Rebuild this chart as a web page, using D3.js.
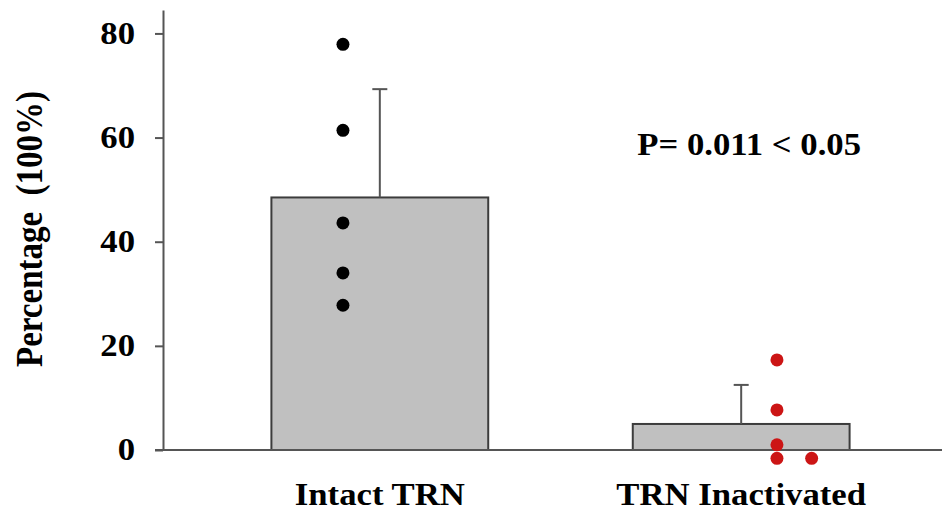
<!DOCTYPE html>
<html>
<head>
<meta charset="utf-8">
<script src="https://cdn.jsdelivr.net/npm/d3@7"></script>
<style>
  body { margin: 0; background: #fff; }
  svg { display: block; }
</style>
</head>
<body>
<svg id="chart" width="942" height="515"></svg>
<script>
// group names, bar means, error (SEM) and single animal values
var categories = ["Intact TRN", "TRN Inactivated"];
var means = [48.5, 5.0];
var errors = [20.8, 7.5];
var intactPoints = [77.9, 61.4, 43.6, 34.0, 27.8];
var inactivatedPoints = [17.3, 7.7, 1.0, -1.6, -1.6];
var yTicks = [0, 20, 40, 60, 80];
var pText = "P= 0.011 < 0.05";

var W = 942, H = 515;
var FONT = "'Liberation Serif'";
var stretch = 1.12; // picture is a bit wider than tall
var svg = d3.select("#chart");

var y = d3.scaleLinear()
    .domain([0, 84.5])
    .range([450, 10]);

var x = d3.scaleBand()
    .domain(categories)
    .range([163, 958])
    .paddingInner(0.4)
    .paddingOuter(0.3);

var bars = categories.map(function (c, i) {
    return {key: c, mean: means[i], err: errors[i]};
});

// bars
svg.append("g")
    .selectAll("rect")
    .data(bars)
    .enter()
    .append("rect")
    .attr("x", function (d) { return x(d.key); })
    .attr("y", function (d) { return y(d.mean); })
    .attr("width", x.bandwidth())
    .attr("height", function (d) { return y(0) - y(d.mean); })
    .attr("fill", "#c0c0c0")
    .attr("stroke", "#3c3c3c")
    .attr("stroke-width", 2);

// error bars (upper only)
var eb = svg.append("g")
    .selectAll("g")
    .data(bars)
    .enter()
    .append("g")
    .attr("stroke", "#555")
    .attr("stroke-width", 2);

eb.append("line")
    .attr("x1", function (d) { return x(d.key) + x.bandwidth() / 2; })
    .attr("x2", function (d) { return x(d.key) + x.bandwidth() / 2; })
    .attr("y1", function (d) { return y(d.mean); })
    .attr("y2", function (d) { return y(d.mean + d.err); });

eb.append("line")
    .attr("x1", function (d) { return x(d.key) + x.bandwidth() / 2 - 7.5; })
    .attr("x2", function (d) { return x(d.key) + x.bandwidth() / 2 + 7.5; })
    .attr("y1", function (d) { return y(d.mean + d.err); })
    .attr("y2", function (d) { return y(d.mean + d.err); });

// axes
var yAxis = svg.append("g")
    .attr("transform", "translate(163,0)")
    .call(d3.axisLeft(y).tickValues(yTicks).tickSize(8).tickSizeOuter(0).tickPadding(20));

yAxis.select(".domain").attr("stroke", "#555").attr("stroke-width", 2);
yAxis.selectAll(".tick line").attr("stroke", "#555").attr("stroke-width", 2);
yAxis.selectAll(".tick text")
    .style("font-family", FONT)
    .style("font-weight", "bold")
    .style("font-size", "31px")
    .attr("fill", "#000")
    .attr("x", -28 / stretch)
    .attr("transform", "scale(" + stretch + ",1)");

svg.append("line")
    .attr("x1", 155)
    .attr("x2", W)
    .attr("y1", y(0))
    .attr("y2", y(0))
    .attr("stroke", "#555")
    .attr("stroke-width", 2);

svg.append("g")
    .selectAll("text")
    .data(categories)
    .enter()
    .append("text")
    .attr("transform", function (d) {
        return "translate(" + (x(d) + x.bandwidth() / 2) + ",505) scale(" + stretch + ",1)";
    })
    .attr("text-anchor", "middle")
    .style("font-family", FONT)
    .style("font-weight", "bold")
    .style("font-size", "31px")
    .text(function (d) { return d; });

// y title
svg.append("text")
    .attr("transform", "translate(42,229) rotate(-90) scale(1," + stretch + ")")
    .attr("text-anchor", "middle")
    .style("font-family", FONT)
    .style("font-weight", "bold")
    .style("font-size", "33px")
    .style("white-space", "pre")
    .text("Percentage  (100%)");

// individual points
var dotOffsets = [-0.17, 0.165];
var dupShift = 0.16;
var dots = [];
[intactPoints, inactivatedPoints].forEach(function (vals, gi) {
    var placed = [];
    vals.forEach(function (v) {
        var cx = x(categories[gi]) + x.bandwidth() * (0.5 + dotOffsets[gi]);
        while (placed.some(function (p) { return p.v === v && p.cx === cx; })) {
            cx += x.bandwidth() * dupShift;
        }
        placed.push({v: v, cx: cx});
        dots.push({v: v, cx: cx, g: gi});
    });
});

svg.append("g")
    .selectAll("circle")
    .data(dots)
    .enter()
    .append("circle")
    .attr("cx", function (d) { return d.cx; })
    .attr("cy", function (d) { return y(d.v); })
    .attr("r", 6.5)
    .attr("fill", function (d) { return d.g === 0 ? "#000" : "#cc1515"; });

// p value note
svg.append("text")
    .attr("transform", "translate(" + (x(categories[1]) + x.bandwidth() / 2 + 8) + "," + y(56.6) + ") scale(" + stretch + ",1)")
    .attr("text-anchor", "middle")
    .style("font-family", FONT)
    .style("font-weight", "bold")
    .style("font-size", "31px")
    .text(pText);
</script>
</body>
</html>
